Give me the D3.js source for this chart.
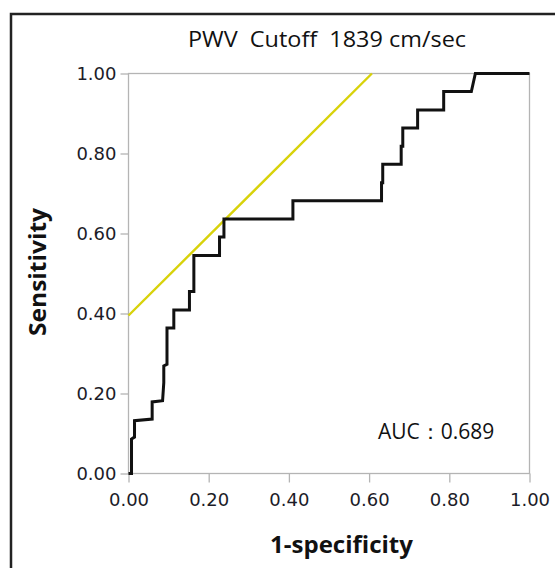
<!DOCTYPE html>
<html><head><meta charset="utf-8">
<script src="https://cdn.jsdelivr.net/npm/d3@7"></script>
<style>html,body{margin:0;padding:0;background:#fff;}svg{display:block;}text{white-space:pre;}</style>
</head><body>
<script>
// Data
const fpr = [0.000, 0.0075, 0.0075, 0.015, 0.015, 0.059, 0.059, 0.085, 0.088, 0.088, 0.096, 0.096, 0.113, 0.113, 0.152, 0.152, 0.163, 0.163, 0.227, 0.227, 0.238, 0.238, 0.410, 0.410, 0.631, 0.631, 0.634, 0.634, 0.680, 0.680, 0.684, 0.684, 0.721, 0.721, 0.786, 0.786, 0.855, 0.865, 1.000];
const tpr = [0.000, 0.000, 0.086, 0.091, 0.132, 0.136, 0.179, 0.182, 0.227, 0.269, 0.273, 0.364, 0.364, 0.409, 0.409, 0.455, 0.455, 0.545, 0.545, 0.591, 0.591, 0.636, 0.636, 0.682, 0.682, 0.727, 0.727, 0.773, 0.773, 0.818, 0.818, 0.864, 0.864, 0.909, 0.909, 0.955, 0.955, 1.000, 1.000];
const cutLineX = [0.000, 0.607];
const cutLineY = [0.395, 1.000];
const tickValues = [0, 0.2, 0.4, 0.6, 0.8, 1.0];
const titleText = "PWV  Cutoff  1839 cm/sec";
const xLabel = "1-specificity";
const yLabel = "Sensitivity";
const aucText = "AUC：0.689";

const W = 555, H = 568;
const svg = d3.select("body").append("svg").attr("width", W).attr("height", H);

// outer frame
svg.append("rect").attr("x", 11).attr("y", 14).attr("width", W).attr("height", H)
  .attr("fill", "none").attr("stroke", "#222").attr("stroke-width", 2.5);

const x = d3.scaleLinear().domain([0, 1]).range([128.5, 529.5]);
const y = d3.scaleLinear().domain([0, 1]).range([473.5, 73.5]);

// plot frame
svg.append("rect").attr("x", x(0)).attr("y", y(1)).attr("width", x(1) - x(0)).attr("height", y(0) - y(1))
  .attr("fill", "none").attr("stroke", "#b4b4b4").attr("stroke-width", 1.3);

const fmt = d3.format(".2f");
const xAxis = svg.append("g").attr("transform", `translate(0,${y(0)})`)
  .call(d3.axisBottom(x).tickValues(tickValues).tickFormat(fmt).tickSize(9).tickPadding(6));
const yAxis = svg.append("g").attr("transform", `translate(${x(0)},0)`)
  .call(d3.axisLeft(y).tickValues(tickValues).tickFormat(fmt).tickSize(8).tickPadding(4));
[xAxis, yAxis].forEach(g => {
  g.select(".domain").remove();
  g.selectAll("line").attr("stroke", "#b4b4b4").attr("stroke-width", 1.3);
  g.selectAll("text").attr("fill", "#1c1c28").style("font-family", "DejaVu Sans").style("font-size", "18px");
});
yAxis.selectAll("text").attr("dy", "0.36em");
xAxis.selectAll("text").attr("dy", "0.95em");

// cutoff line
svg.append("line")
  .attr("x1", x(cutLineX[0])).attr("y1", y(cutLineY[0]))
  .attr("x2", x(cutLineX[1])).attr("y2", y(cutLineY[1]))
  .attr("stroke", "#d8d20a").attr("stroke-width", 2.4);

// ROC curve
const line = d3.line().x((d, i) => x(fpr[i])).y((d, i) => y(tpr[i]));
svg.append("path").datum(fpr).attr("d", line)
  .attr("fill", "none").attr("stroke", "#111").attr("stroke-width", 3).attr("stroke-linejoin", "miter");

// texts
svg.append("text").attr("x", 188).attr("y", 47)
  .attr("textLength", 278).attr("lengthAdjust", "spacingAndGlyphs")
  .style("font-family", "Open Sans").style("font-size", "21px").attr("fill", "#111").text(titleText);
svg.append("text").attr("x", 270).attr("y", 553)
  .attr("textLength", 143).attr("lengthAdjust", "spacingAndGlyphs")
  .style("font-family", "Open Sans").style("font-weight", "bold").style("font-size", "23px").attr("fill", "#111").text(xLabel);
svg.append("text").attr("transform", "translate(46,336) rotate(-90)")
  .attr("textLength", 128).attr("lengthAdjust", "spacingAndGlyphs")
  .style("font-family", "Open Sans").style("font-weight", "bold").style("font-size", "23px").attr("fill", "#111").text(yLabel);
svg.append("text").attr("x", 378).attr("y", 439)
  .style("font-family", "Open Sans").style("font-size", "21px").attr("fill", "#111").text(aucText);
</script>
</body></html>
